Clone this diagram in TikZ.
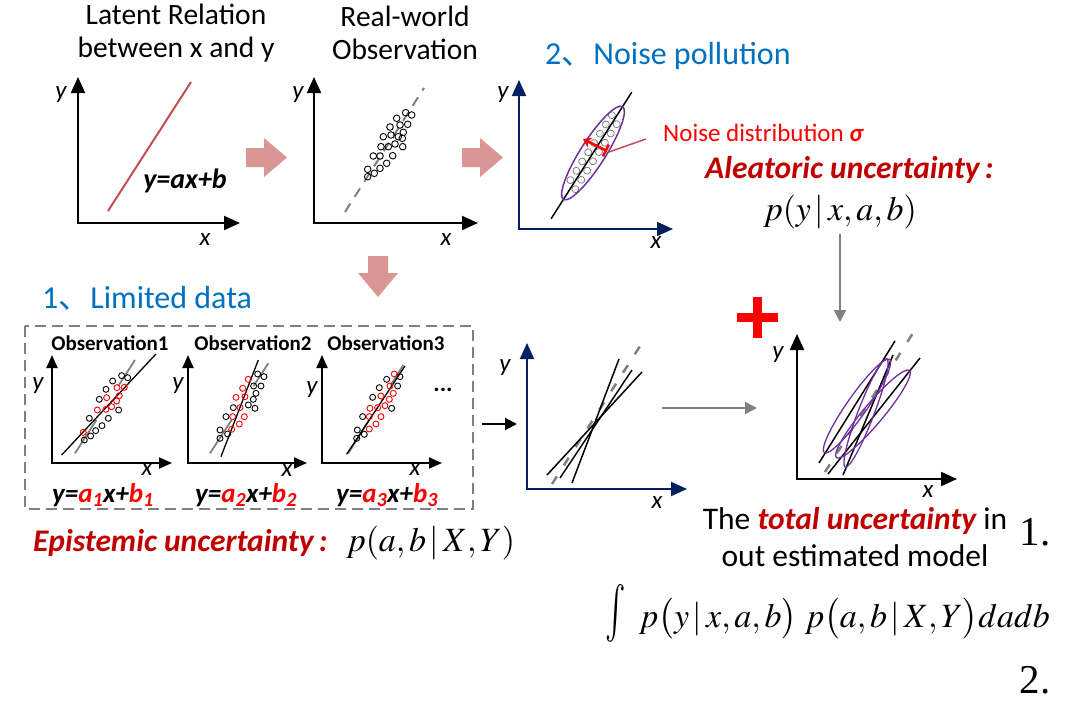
\documentclass[tikz,border=0pt]{standalone}
\usepackage{amsmath}
\usepackage{graphicx}
\usepackage{mathptmx}
\usepackage{fontspec}
\setmainfont{Carlito}
\newfontfamily\cjk{Noto Sans CJK SC}
\newfontfamily\timesfont{Liberation Serif}
\usetikzlibrary{arrows.meta}
\definecolor{headblue}{RGB}{0,112,192}
\definecolor{darkred}{RGB}{192,0,0}
\definecolor{axisblue}{RGB}{0,32,96}
\definecolor{pinkarrow}{RGB}{218,150,148}
\definecolor{brick}{RGB}{192,80,77}
\definecolor{ellviolet}{RGB}{112,48,160}

\begin{document}
\begin{tikzpicture}[x=1pt,y=-1pt,
	axis/.style={line width=2pt,{Triangle[width=14pt,length=16pt]}-{Triangle[width=14pt,length=16pt]}},
	smallaxis/.style={line width=1.8pt,{Triangle[width=11pt,length=13pt]}-{Triangle[width=11pt,length=13pt]}},
	lab/.style={font=\fontsize{25}{25}\selectfont\itshape},
	title/.style={align=center,font=\fontsize{29.5}{33}\selectfont},
	bluehead/.style={anchor=west,inner sep=0pt,text=headblue,font=\fontsize{32}{32}\selectfont},
	obs/.style={font=\fontsize{21}{21}\selectfont\bfseries},
	eqn/.style={font=\fontsize{27}{27}\selectfont\bfseries\itshape},
	uncert/.style={anchor=west,inner sep=0pt,text=darkred,font=\fontsize{31.5}{31.5}\selectfont\bfseries\itshape},
	formula/.style={font=\fontsize{34}{40}\selectfont},
	dot/.style={line width=0.9pt},
	reddot/.style={line width=0.9pt,red},
	noisedot/.style={line width=0.8pt,gray},
	fit/.style={line width=1.5pt},
	guess/.style={line width=2pt,gray,dash pattern=on 10pt off 8pt},
	grayarrow/.style={line width=2pt,gray,-{Triangle[width=12pt,length=12pt]}}]
	\useasboundingbox (0,0) rectangle (1080,704);

	% titles
	\node[title] (latent) at (176,33) {Latent Relation\\between x and y};
	\node[title] (real) at (405,33) {Real-world\\Observation};
	\node[bluehead] (noisehead) at (545,56) {2{\cjk 、}Noise pollution};
	\node[bluehead] (limitedhead) at (42,298) {1{\cjk 、}Limited data};

	% latent relation
	\draw[axis] (78,77) |- (240,223);
	\node[lab] (ly1) at (61,95) {y};
	\node[lab] (lx1) at (205,240) {x};
	\draw[brick,line width=2pt] (108,211) -- (191,82);
	\node[eqn,font=\fontsize{28}{28}\selectfont\bfseries\itshape] (latenteq) at (185,181) {y=ax+b};

	% real-world observation
	\draw[axis] (314,77) |- (478,223);
	\node[lab] (ly2) at (298,95) {y};
	\node[lab] (lx2) at (446,240) {x};
	\draw[guess] (345,212) -- (424,88);
	\foreach \p in {(405.7,112.7),(411.7,115),(396.7,118.3),(407.7,124.3),(400,125),(390,127),(403.3,132.3),(398.3,136.7),(383.3,136.7),(391,135),(402.3,138.3),(395,144),(381,146.7),(388.3,146.7),(402.7,146.7),(373.3,156),(380,156),(392.7,155.7),(386.7,163.3),(367.7,169.3),(380,168.3),(374.3,173.3),(367.7,176.7)}
		\draw[dot] \p circle (3.3pt);

	% block arrows
	\fill[pinkarrow] (246,148) -- (264,148) -- (264,138) -- (287,157.5) -- (264,177) -- (264,167) -- (246,167) -- cycle;
	\fill[pinkarrow,shift={(216,0)}] (246,148) -- (264,148) -- (264,138) -- (287,157.5) -- (264,177) -- (264,167) -- (246,167) -- cycle;
	\fill[pinkarrow] (368,256) -- (388,256) -- (388,273) -- (398,273) -- (378,297) -- (358,273) -- (368,273) -- cycle;

	% noise pollution
	\draw[axis,axisblue] (519,80) |- (673,229);
	\node[lab] (ly3) at (503,95) {y};
	\node[lab] (lx3) at (656,243) {x};
	\begin{scope}[shift={(593,153)},rotate=57.5]
		\foreach \t in {-40,-29,...,42} {
			\draw[noisedot] (\t,4.5) circle (3.5pt);
			\draw[noisedot] (\t+5,-4.5) circle (3.5pt);
		}
		\draw[fit] (-78,0) -- (72,0);
		\draw[ellviolet,line width=1.5pt] (0,0) ellipse (55 and 12.5);
	\end{scope}
	\draw[red,line width=2.5pt,{Stealth[length=8pt,width=11pt]}-{Bar[width=13pt]}] (583,139) -- (607,151);
	\coordinate (sigmaend) at (609,152);
	\node[anchor=west,inner sep=0pt,text=red,font=\fontsize{25}{25}\selectfont] (noiselbl) at (663,133) {Noise distribution {\bfseries\itshape σ}};
	\draw[brick,line width=1.5pt,shorten >=18pt] (sigmaend) -- (noiselbl.west);
	\node[uncert] (alea) at (705,170) {Aleatoric uncertainty\,:};
	\node[formula] (pyx) at (840,212) {$p(y\,|\,x,a,b)$};

	% limited data
	\draw[gray,line width=2pt,dash pattern=on 11pt off 6pt] (25,326) rectangle (473,509);
	\draw[smallaxis] (52,355) |- (172,463);
	\draw[smallaxis] (188,355) |- (307,463);
	\draw[smallaxis] (322,355) |- (442,463);
	\node[obs] (obs1) at (110,343) {Observation1};
	\node[obs] (obs2) at (253,343) {Observation2};
	\node[obs] (obs3) at (386,343) {Observation3};
	\node[lab] (lya) at (38,386) {y};
	\node[lab] (lyb) at (178,386) {y};
	\node[lab] (lyc) at (312,390) {y};
	\node[lab] (lxa) at (147,470) {x};
	\node[lab] (lxb) at (287,471) {x};
	\node[lab] (lxc) at (415,470) {x};
	\node[font=\fontsize{24}{24}\selectfont\bfseries] (more) at (443,390) {...};
	\node[eqn] (eqa) at (103,495) {y=\textcolor{red}{a\textsubscript{1}}x+\textcolor{red}{b\textsubscript{1}}};
	\node[eqn] (eqb) at (246,495) {y=\textcolor{red}{a\textsubscript{2}}x+\textcolor{red}{b\textsubscript{2}}};
	\node[eqn] (eqc) at (387,495) {y=\textcolor{red}{a\textsubscript{3}}x+\textcolor{red}{b\textsubscript{3}}};
	\begin{scope}[shift={(0,280)},x=0.3333pt,y=-0.3333pt]
		\draw[guess,line width=1.8pt,dash pattern=on 40pt] (225,520) -- (405,240);
		\draw[guess,line width=1.8pt,dash pattern=on 40pt] (630,520) -- (805,250);
		\draw[guess,line width=1.8pt,dash pattern=on 40pt] (1045,520) -- (1210,255);
		\draw[fit,line width=1.3pt] (185,525) -- (468,222);
		\draw[fit,line width=1.3pt] (663,530) -- (775,240);
		\draw[fit,line width=1.3pt] (1040,523) -- (1215,258);
		\foreach \p in {(365,287),(383,293),(338,303),(318,328),(298,358),(268,415),(325,415),(306,437),(287,452),(272,468),(253,480),(356,390),
			(773,282),(792,290),(761,318),(783,318),(768,340),(760,358),(745,375),(765,385),(700,383),(678,410),(660,450),(683,462),(660,475),
			(1200,290),(1160,298),(1193,318),(1138,323),(1118,352),(1175,385),(1088,410),(1072,450),(1093,463),(1070,475)}
			\draw[dot] \p circle (3pt);
		\foreach \p in {(351,323),(373,322),(358,347),(320,353),(350,363),(335,380),(292,390),(318,388),(250,457),
			(745,298),(728,325),(735,350),(708,352),(720,383),(698,410),(733,410),(718,432),(695,448),
			(1183,282),(1170,318),(1180,340),(1143,348),(1168,358),(1133,383),(1110,385),(1155,377),(1108,410),(1143,410),(1128,432),(1108,447)}
			\draw[reddot] \p circle (3pt);
	\end{scope}
	\node[uncert] (epis) at (33,543) {Epistemic uncertainty\,:};
	\node[formula,anchor=west,inner sep=0pt] (pab) at (346,543) {$p(a,b\,|\,X,Y)$};

	% combined estimates
	\coordinate (boxout) at (482,424);
	\coordinate (midin) at (517,424);
	\draw[line width=2pt,-{Triangle[width=12pt,length=12pt]}] (boxout) -- (midin);
	\draw[axis,axisblue] (527,343) |- (687,489);
	\node[lab] (lym) at (505,368) {y};
	\node[lab] (lxm) at (657,503) {x};
	\draw[guess,line width=2.5pt,dash pattern=on 9pt off 13pt] (552,484) -- (642,343);
	\draw[fit] (572,483) -- (619,359);
	\draw[fit] (560,478) -- (632,370);
	\draw[fit] (547,475) -- (642,372);

	\coordinate (midout) at (662,408);
	\coordinate (totin) at (757,408);
	\draw[grayarrow] (midout) -- (totin);
	\coordinate (aleaout) at (840,234);
	\coordinate (aleain) at (840,322);
	\draw[grayarrow] (aleaout) -- (aleain);
	\fill[red] (753,297) rectangle (762,338);
	\fill[red] (737,313) rectangle (778,322);

	% total uncertainty
	\draw[axis] (797,334) |- (957,479);
	\node[lab] (lyt) at (778,355) {y};
	\node[lab] (lxt) at (928,492) {x};
	\draw[guess,line width=2.5pt,dash pattern=on 9pt off 13pt] (825,472) -- (913,333);
	\draw[fit] (819,463) -- (895,341);
	\draw[fit] (828,474) -- (920,358);
	\draw[fit] (843,475) -- (893,355);
	\draw[ellviolet,line width=1.3pt,rotate around={55:(857,406)}] (857,406) ellipse (57 and 10);
	\draw[ellviolet,line width=1.3pt,rotate around={50:(873,414)}] (873,414) ellipse (57 and 10);
	\draw[ellviolet,line width=1.3pt,rotate around={69:(866,413)}] (866,413) ellipse (58 and 8);

	\node[title,inner sep=0pt,font=\fontsize{31.5}{37}\selectfont] (total) at (855,537) {The \textcolor{darkred}{\bfseries\itshape total uncertainty} in\\out estimated model};
	\node[font=\fontsize{41}{41}\selectfont\timesfont] (one) at (1035,532) {1.};
	\node[formula,anchor=west,inner sep=0pt] (integral) at (605,613) {\scalebox{1}[1.7]{$\int$}\, $p\bigl(y\,|\,x,a,b\bigr)\;p\bigl(a,b\,|\,X,Y\bigr)dadb$};
	\node[font=\fontsize{41}{41}\selectfont\timesfont] (two) at (1035,680) {2.};
\end{tikzpicture}
\end{document}
